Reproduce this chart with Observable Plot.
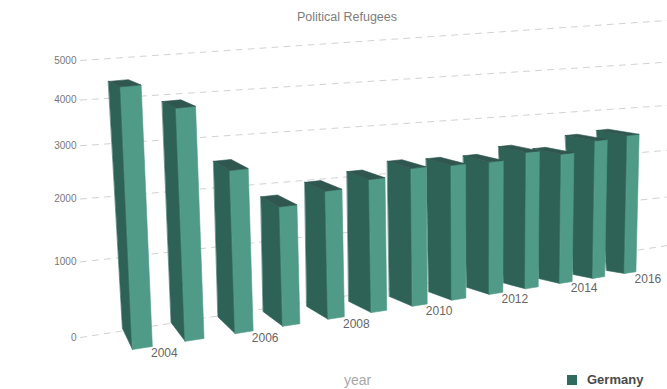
<!DOCTYPE html>
<html>
<head>
<meta charset="utf-8">
<script src="https://cdn.jsdelivr.net/npm/d3@7"></script>
<script src="https://cdn.jsdelivr.net/npm/@observablehq/plot@0.6"></script>
<style>
  html, body { margin: 0; background: #fff; font-family: "Liberation Sans", Arial, sans-serif; }
  #chart { position: relative; width: 667px; height: 389px; overflow: hidden; }
  #title { position: relative; z-index: 1; height: 28px; line-height: 34px; text-align: center; padding-left: 27px; font-size: 12.5px; color: #7d7d7d; }
  #plot svg { display: block; overflow: visible; background: none; }
  #foot { position: relative; height: 22px; }
  #foot .axis { position: absolute; left: 344px; top: 5px; font-size: 14px; color: #a8a8a8; }
  #foot .key { position: absolute; left: 567px; top: 5px; display: flex; align-items: center; font-size: 13px; font-weight: bold; color: #4a4a4a; }
  #foot .key i { width: 10px; height: 10px; margin-right: 10px; background: #2f6b5e; }
</style>
</head>
<body>
<div id="chart">
  <div id="title">Political Refugees</div>
  <div id="plot"></div>
  <div id="foot">
    <span class="axis">year</span>
    <span class="key"><i></i>Germany</span>
  </div>
</div>
<script>
const years = [2004, 2005, 2006, 2007, 2008, 2009, 2010, 2011, 2012, 2013, 2014, 2015, 2016];
const refugees = [4390, 3780, 2410, 1680, 1850, 1960, 2070, 2040, 2020, 2120, 2010, 2190, 2220];
const valueTicks = [0, 1000, 2000, 3000, 4000, 5000];
const yearLabels = [2004, 2006, 2008, 2010, 2012, 2014, 2016];

const valueMax = 5000;
const barWidth = 0.37;
const titleHeight = 28;

// Three receding planes of the 3D scene: the bar fronts, the bar backs and the rear wall.
// Each is a quad (bottom/top at first/last year) with its own foreshortening;
// topBulge pushes the middle of a plane's top edge sideways to ease the lean of the central bars.
const FRONT = 0, BACK = 1, WALL = 2;
const planes = [
  {bl: [132, 349], br: [624, 273], tl: [119, 62], tr: [629.5, 20], bendU: 0.32, bendV: [0.5, 0.5], topBulge: 0},
  {bl: [122, 328], br: [606, 270], tl: [106.7, 58], tr: [588, 13], bendU: 0.23, bendV: [0.5, 0.5], topBulge: 13},
  {bl: [80, 337], br: [667, 245], tl: [80, 60], tr: [667, 20], bendU: 0, bendV: [0.5, 0.1], topBulge: 0}
];
// Text marks only carry two coordinates, so wall positions use this offset on the year index.
const wallOffset = 1000;

const bend = (t, k) => t * (1 + k) / (1 + k * t);
const mix = (a, b, t) => a + (b - a) * t;

function place(u, v, z) {
  const p = planes[z];
  const T = bend(u / 12, p.bendU);
  const V = bend(v / valueMax, mix(p.bendV[0], p.bendV[1], T));
  const bx = mix(p.bl[0], p.br[0], T), by = mix(p.bl[1], p.br[1], T);
  const tx = mix(p.tl[0], p.tr[0], T) + p.topBulge * 4 * T * (1 - T), ty = mix(p.tl[1], p.tr[1], T);
  return [mix(bx, tx, V), mix(by, ty, V) - titleHeight];
}

const scene = d3.geoTransform({
  point(x, y, z) {
    const [sx, sy] = x >= wallOffset / 2
      ? place(x - wallOffset, y, WALL)
      : place(x, y, z === undefined ? FRONT : z);
    this.stream.point(sx, sy);
  }
});

const face = (corners, fill) => ({type: "Polygon", coordinates: [[...corners, corners[0]]], fill});

// Each bar is a side, a front and a cap; far bars come first so nearer ones cover them.
const barFaces = [...years.keys()].reverse().flatMap(i => {
  const v = refugees[i], r = i + barWidth;
  return [
    face([[i, 0, BACK], [i, 0, FRONT], [i, v, FRONT], [i, v, BACK]], "#2e6257"),
    face([[i, 0, FRONT], [r, 0, FRONT], [r, v, FRONT], [i, v, FRONT]], "#4f9b87"),
    face([[i, v, FRONT], [r, v, FRONT], [r, v, BACK], [i, v, BACK]], "#2f564f")
  ];
});

const gridLines = valueTicks.map(v => ({type: "LineString", coordinates: [[0, v, WALL], [12, v, WALL]]}));

const chart = Plot.plot({
  width: 667,
  height: 339,
  margin: 0,
  projection: scene,
  color: {type: "identity"},
  style: {fontFamily: "Liberation Sans, Arial, sans-serif", background: "none", overflow: "visible"},
  marks: [
    Plot.geo(gridLines, {stroke: "#d2d2d2", strokeWidth: 1, strokeDasharray: "6 6", fill: "none"}),
    Plot.text(valueTicks, {
      x: () => wallOffset, y: d => d, text: d => String(d),
      textAnchor: "end", dx: -4, fontSize: 10, fill: "#777"
    }),
    Plot.geo(barFaces, {fill: d => d.fill, stroke: d => d.fill, strokeWidth: 0.6}),
    Plot.text(yearLabels, {
      x: d => years.indexOf(d) + barWidth, y: () => 0, text: d => String(d),
      dx: 12, dy: 7, fontSize: 12, fill: "#666"
    })
  ]
});
document.getElementById("plot").appendChild(chart);
</script>
</body>
</html>
